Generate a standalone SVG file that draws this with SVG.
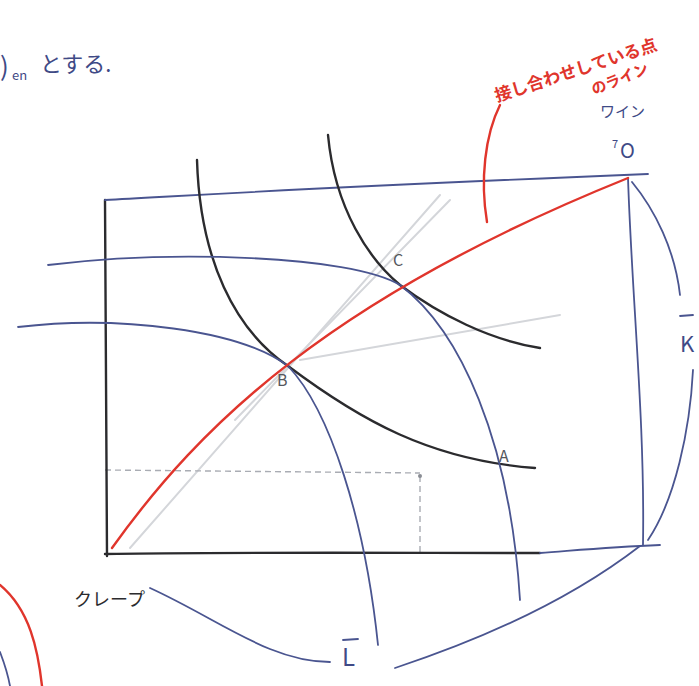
<svg xmlns="http://www.w3.org/2000/svg" width="699" height="686" viewBox="0 0 699 686">
<style>
.blk{fill:none;stroke:#2b2b2e;stroke-width:2.4;stroke-linecap:round}
.blu{fill:none;stroke:#4a5590;stroke-width:1.8;stroke-linecap:round}
.red{fill:none;stroke:#e0352c;stroke-width:2.4;stroke-linecap:round}
.gry{fill:none;stroke:#d4d6da;stroke-width:2;stroke-linecap:round}
.dash{fill:none;stroke:#a9acb3;stroke-width:1.4;stroke-dasharray:6 4}
.lbl{font-family:"Noto Sans CJK JP","Noto Sans",sans-serif;fill:#55575c}
.bt{font-family:"Noto Sans CJK JP","Noto Sans",sans-serif;fill:#3f4a86}
.rt{font-family:"Noto Sans CJK JP","Noto Sans",sans-serif;fill:#e0352c;font-weight:bold}
.kt{font-family:"Noto Sans CJK JP","Noto Sans",sans-serif;fill:#2b2b2e}
</style>
<rect width="699" height="686" fill="#ffffff"/>

<g id="annotations">
  <text class="bt" x="0" y="76" font-size="26">)</text>
  <text class="bt" x="12" y="80" font-size="13">en</text>
  <text class="bt" x="40" y="72" font-size="22">とする.</text>
  <path class="red" d="M0,585 C30,610 38,650 42,686" stroke-width="1.6"/>
  <path class="blu" d="M0,652 C5,665 8,675 10,686" stroke-width="1.4"/>
</g>

<g id="guides">
  <path class="gry" d="M130,548 L440,195"/>
  <path class="gry" d="M235,420 L450,200"/>
  <path class="gry" d="M300,360 L560,315"/>
  <path class="dash" d="M105,470 L420,473"/>
  <path class="dash" d="M420,476 L420,556"/>
  <circle cx="420" cy="476" r="2" fill="#8a8d94"/>
</g>

<g id="box">
  <path class="blk" d="M105,200 L107,556"/>
  <path class="blk" d="M105,554 C200,552 400,553 540,553"/>
  <path class="blu" d="M540,553 C580,550 610,547 660,545"/>
  <path class="blu" d="M105,200 C200,195 300,188 648,174"/>
  <path class="blu" d="M628,178 C632,300 645,420 643,545"/>
</g>

<g id="connectors">
  <path class="blk" d="M197,160 C200,260 235,330 288,366 C360,420 430,460 535,468"/>
  <path class="blk" d="M328,135 C335,210 370,260 400,285 C440,315 490,340 540,348"/>
  <path class="blu" d="M18,327 C120,315 240,330 288,366 C330,410 365,520 378,645"/>
  <path class="blu" d="M48,265 C170,250 350,255 400,285 C460,330 510,440 520,600"/>
  <path class="red" d="M112,548 C200,425 330,298 628,178"/>
  <path class="red" d="M487,222 C480,180 485,135 500,105" stroke-width="1.6"/>
  <path class="blu" d="M150,588 C220,620 270,662 330,662" stroke="#8d93ad"/>
  <path class="blu" d="M395,668 C480,640 570,600 640,546"/>
  <path class="blu" d="M632,182 C655,210 675,250 680,295"/>
  <path class="blu" d="M693,370 C690,430 675,500 648,540"/>
</g>

<g id="point-A"><text class="lbl" x="499" y="462" font-size="16">A</text></g>
<g id="point-B"><text class="lbl" x="277" y="386" font-size="16">B</text></g>
<g id="point-C"><text class="lbl" x="393" y="266" font-size="16">C</text></g>

<g id="origin-crepe"><text class="kt" x="74" y="606" font-size="18">クレープ</text></g>
<g id="origin-wine">
  <text class="bt" x="600" y="117" font-size="15">ワイン</text>
  <text class="bt" x="612" y="148" font-size="11">7</text>
  <text class="bt" x="620" y="158" font-size="20">O</text>
</g>

<g id="label-contract">
  <text class="rt" font-size="17" transform="translate(497,102) rotate(-18)">接し合わせしている点</text>
  <text class="rt" font-size="15" transform="translate(594,95) rotate(-22)">のライン</text>
</g>

<g id="label-K">
  <path class="blu" d="M680,316 L693,315"/>
  <text class="bt" x="680" y="352" font-size="22">K</text>
</g>
<g id="label-L">
  <path class="blu" d="M343,640 L358,639"/>
  <text class="bt" x="342" y="666" font-size="24">L</text>
</g>
</svg>
